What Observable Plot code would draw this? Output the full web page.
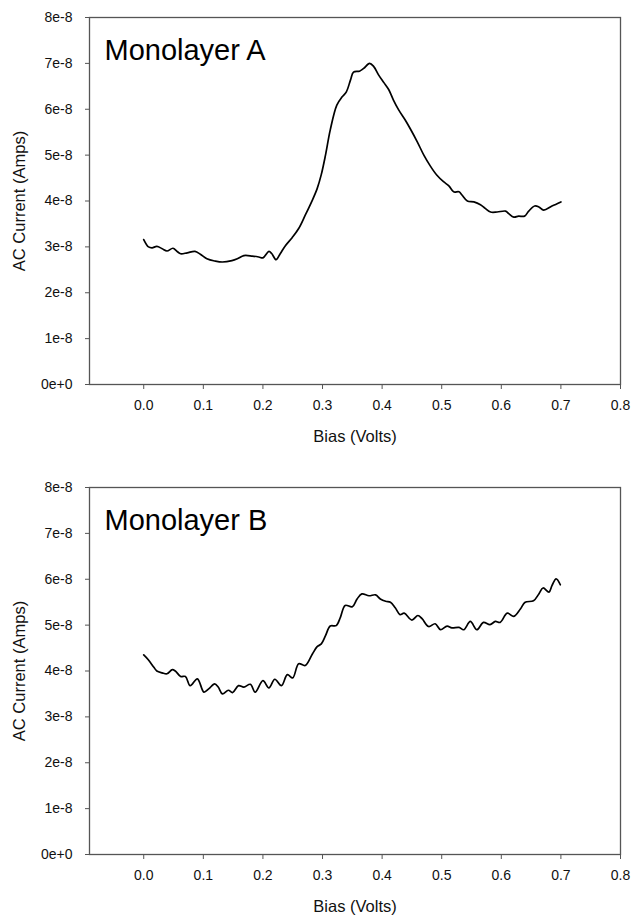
<!DOCTYPE html>
<html><head><meta charset="utf-8">
<script src="https://cdn.jsdelivr.net/npm/d3@7"></script>
<script src="https://cdn.jsdelivr.net/npm/@observablehq/plot@0.6"></script>
<style>body{margin:0;background:#fff} #chart svg{display:block}</style>
</head><body><div id="chart"></div>
<script>
// Bias (Volts) and AC current (units of 1e-8 Amps)
const biasA = [0.000,0.008,0.014,0.022,0.031,0.039,0.049,0.056,0.062,0.073,0.086,0.095,0.106,0.120,0.132,0.148,0.157,0.168,0.182,0.193,0.200,0.210,0.215,0.222,0.229,0.238,0.249,0.260,0.271,0.283,0.291,0.298,0.305,0.313,0.324,0.333,0.340,0.347,0.352,0.362,0.369,0.379,0.386,0.394,0.403,0.411,0.419,0.428,0.439,0.447,0.459,0.470,0.481,0.492,0.503,0.512,0.520,0.529,0.534,0.543,0.554,0.565,0.573,0.582,0.593,0.607,0.612,0.621,0.629,0.639,0.646,0.656,0.663,0.671,0.685,0.700];
const currentA = [3.16,3.00,2.98,3.01,2.96,2.91,2.97,2.90,2.85,2.87,2.90,2.84,2.74,2.69,2.67,2.70,2.74,2.81,2.80,2.78,2.76,2.90,2.85,2.72,2.85,3.03,3.20,3.40,3.69,4.02,4.27,4.58,5.00,5.55,6.09,6.27,6.38,6.64,6.81,6.83,6.89,7.00,6.93,6.75,6.58,6.43,6.20,5.98,5.76,5.58,5.29,5.00,4.76,4.56,4.42,4.33,4.20,4.20,4.13,4.00,3.98,3.92,3.84,3.76,3.76,3.78,3.73,3.65,3.67,3.67,3.78,3.89,3.87,3.80,3.89,3.98];
const biasB = [0.000,0.008,0.017,0.022,0.031,0.039,0.048,0.053,0.062,0.070,0.078,0.090,0.101,0.109,0.119,0.125,0.132,0.142,0.149,0.159,0.168,0.179,0.187,0.200,0.210,0.220,0.231,0.241,0.250,0.260,0.271,0.283,0.291,0.298,0.305,0.313,0.323,0.330,0.338,0.350,0.358,0.366,0.378,0.389,0.397,0.406,0.414,0.422,0.430,0.437,0.450,0.460,0.467,0.478,0.489,0.498,0.509,0.517,0.529,0.537,0.548,0.559,0.570,0.581,0.590,0.598,0.610,0.621,0.632,0.640,0.654,0.663,0.670,0.680,0.685,0.692,0.699];
const currentB = [4.35,4.24,4.08,4.00,3.96,3.94,4.03,4.00,3.88,3.88,3.68,3.83,3.54,3.61,3.72,3.65,3.50,3.58,3.53,3.68,3.65,3.71,3.54,3.79,3.63,3.82,3.68,3.92,3.85,4.16,4.12,4.37,4.53,4.59,4.77,4.98,4.99,5.17,5.43,5.40,5.57,5.68,5.64,5.66,5.57,5.52,5.50,5.38,5.23,5.26,5.11,5.21,5.14,4.97,5.03,4.90,4.98,4.94,4.95,4.90,5.08,4.90,5.06,5.01,5.08,5.06,5.26,5.19,5.35,5.50,5.53,5.68,5.81,5.72,5.86,6.01,5.88];
const xTicks = [0.0,0.1,0.2,0.3,0.4,0.5,0.6,0.7,0.8];
const yTicks = [0,1e-8,2e-8,3e-8,4e-8,5e-8,6e-8,7e-8,8e-8];
const titles = ["Monolayer A","Monolayer B"];
const xLabel = "Bias (Volts)";
const yLabel = "AC Current (Amps)";

const font = "'Liberation Sans', Arial, Helvetica, sans-serif";
const axisColor = "#555";

function panel(bias, current, title, h, mt, mb) {
  const data = bias.map((b, i) => ({bias: b, current: current[i] * 1e-8}));
  return Plot.plot({
    width: 633, height: h,
    marginTop: mt, marginBottom: mb, marginLeft: 89, marginRight: 13,
    style: {fontFamily: font, background: "#fff", color: "#000"},
    x: {domain: [-0.091, 0.8]},
    y: {domain: [0, 8e-8]},
    marks: [
      Plot.frame({stroke: axisColor, strokeWidth: 1.3}),
      Plot.axisX(xTicks, {tickFormat: d3.format(".1f"), tickSize: 5, tickPadding: 11, fontSize: 14, stroke: axisColor, fill: "#111", label: null}),
      Plot.axisX([], {label: xLabel, labelAnchor: "center", labelArrow: "none", labelOffset: 57, fontSize: 16.5, fill: "#111", tickSize: 0}),
      Plot.axisY(yTicks, {tickFormat: d3.format(".0e"), tickSize: 4, tickPadding: 13, fontSize: 14, stroke: axisColor, fill: "#111", label: null}),
      Plot.axisY([], {label: yLabel, labelAnchor: "center", labelArrow: "none", labelOffset: 76, fontSize: 16.5, fill: "#111", tickSize: 0}),
      Plot.text([title], {frameAnchor: "top-left", dx: 15, dy: 22, lineAnchor: "top", textAnchor: "start", fontSize: 29, fill: "#000", text: d => d}),
      Plot.line(data, {x: "bias", y: "current", curve: "catmull-rom", stroke: "#000", strokeWidth: 1.7})
    ]
  });
}

const root = document.getElementById("chart");
root.appendChild(panel(biasA, currentA, titles[0], 450, 17, 66));
root.appendChild(panel(biasB, currentB, titles[1], 466, 37, 62));
</script>
</body></html>
